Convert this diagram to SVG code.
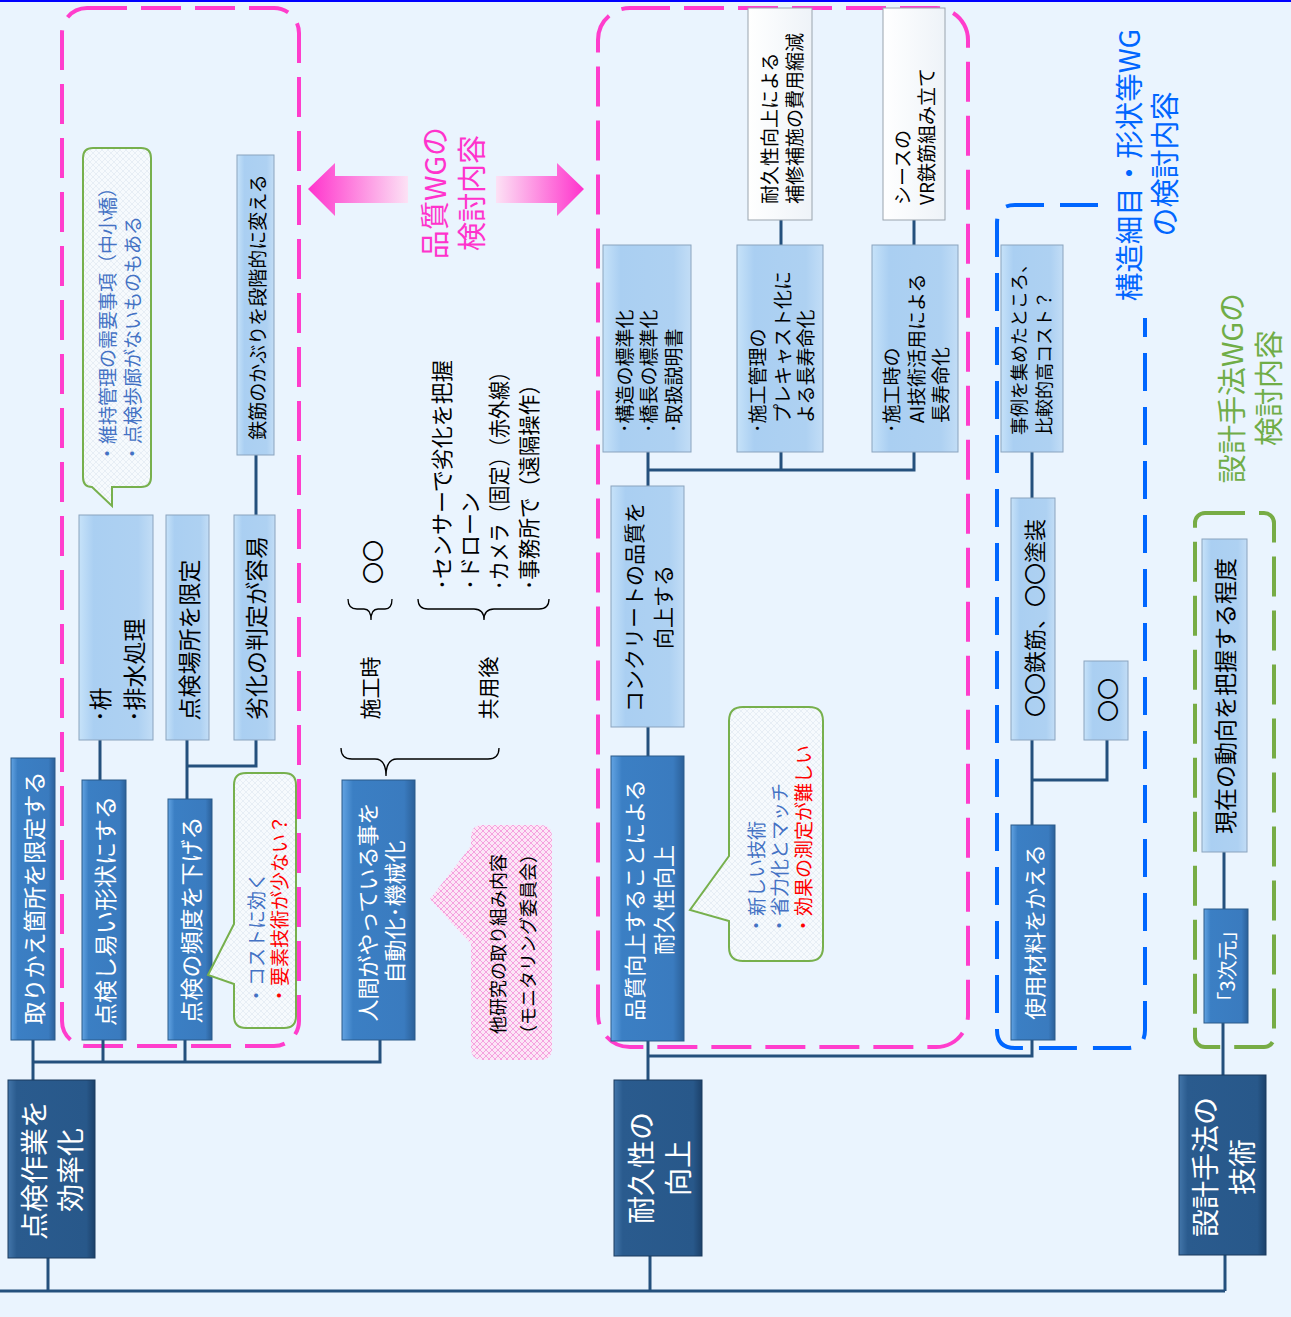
<svg xmlns="http://www.w3.org/2000/svg" width="1291" height="1317" viewBox="0 0 1291 1317">
<defs>
<style>
.t{font-family:"Noto Sans CJK JP","Noto Sans",sans-serif;dominant-baseline:central}
.m{text-anchor:middle}
.s{text-anchor:start}
.w{fill:#fff}
.k{fill:#000}
.b{fill:#4472C4}
.r{fill:#FF0000}
.dk{fill:url(#gDark);stroke:#1A3A5E;stroke-width:1}
.md{fill:url(#gMid);stroke:#2A5A8A;stroke-width:1}
.lt{fill:url(#gLight);stroke:#8AA3BE;stroke-width:1}
.pl{fill:url(#gPale);stroke:#9AA4AE;stroke-width:1}
.cn{fill:none;stroke:#24507D;stroke-width:3}
.pk{fill:none;stroke:#FF3DCC;stroke-width:4;stroke-dasharray:40 14}
.bl{fill:none;stroke:#0066FF;stroke-width:4;stroke-dasharray:38 16}
.gr{fill:none;stroke:#77AC45;stroke-width:4;stroke-dasharray:40 14}
.co{fill:url(#hatchG);stroke:#77B04D;stroke-width:2}
.br{fill:none;stroke:#000;stroke-width:1.3}
</style>
<linearGradient id="gDark" x1="0" y1="0" x2="1" y2="0">
<stop offset="0" stop-color="#4376AA"/><stop offset="0.1" stop-color="#2A5B8E"/><stop offset="0.9" stop-color="#28588A"/><stop offset="1" stop-color="#1C416A"/>
</linearGradient>
<linearGradient id="gMid" x1="0" y1="0" x2="1" y2="0">
<stop offset="0" stop-color="#62A3E2"/><stop offset="0.15" stop-color="#3B7FC4"/><stop offset="0.85" stop-color="#3A7BBF"/><stop offset="1" stop-color="#2B6099"/>
</linearGradient>
<linearGradient id="gLight" x1="0" y1="0" x2="1" y2="0">
<stop offset="0" stop-color="#C6E2F9"/><stop offset="0.2" stop-color="#AACFF2"/><stop offset="0.8" stop-color="#AED1F2"/><stop offset="1" stop-color="#C2DDF6"/>
</linearGradient>
<linearGradient id="gPale" x1="0" y1="0" x2="1" y2="0">
<stop offset="0" stop-color="#FFFFFF"/><stop offset="1" stop-color="#EEF3F8"/>
</linearGradient>
<linearGradient id="gArrL" x1="308" y1="0" x2="408" y2="0" gradientUnits="userSpaceOnUse">
<stop offset="0" stop-color="#FF33CC"/><stop offset="1" stop-color="#FCE2F5"/>
</linearGradient>
<linearGradient id="gArrR" x1="496" y1="0" x2="584" y2="0" gradientUnits="userSpaceOnUse">
<stop offset="0" stop-color="#FCE2F5"/><stop offset="1" stop-color="#FF33CC"/>
</linearGradient>
<pattern id="hatchG" width="6" height="6" patternUnits="userSpaceOnUse">
<rect width="6" height="6" fill="#F6FAFD"/>
<path d="M0,0 L6,6 M6,0 L0,6" stroke="#E3EBF2" stroke-width="0.8"/>
</pattern>
<pattern id="hatchP" width="6" height="6" patternUnits="userSpaceOnUse">
<rect width="6" height="6" fill="#FCE6F6"/>
<path d="M0,0 L6,6 M6,0 L0,6" stroke="#F49BDC" stroke-width="0.9"/>
</pattern>
</defs>

<rect x="0" y="0" width="1291" height="1317" fill="#EAF4FE"/>
<rect x="0" y="0" width="1291" height="2" fill="#0000FF"/>

<!-- group frames -->
<g id="frames">
<rect class="pk" x="62" y="8" width="237" height="1038" rx="25"/>
<rect class="pk" x="598" y="8" width="370" height="1039" rx="32"/>
<path class="bl" d="M1098,205 H1015 Q997,205 997,223 V1030 Q997,1048 1015,1048 H1127 Q1145,1048 1145,1030 V318"/>
<rect class="gr" x="1195" y="513" width="79" height="534" rx="10"/>
</g>

<!-- connectors -->
<g id="connectors">
<path class="cn" d="M0,1291 H1225"/>
<path class="cn" d="M48,1258 V1291"/>
<path class="cn" d="M33,1080 V1040"/>
<path class="cn" d="M33,1062 H380 V1040"/>
<path class="cn" d="M103,1040 V1062"/>
<path class="cn" d="M185,1040 V1062"/>
<path class="cn" d="M100,780 V740"/>
<path class="cn" d="M187,799 V740"/>
<path class="cn" d="M187,766 H256 V740"/>
<path class="cn" d="M256,515 V455"/>
<path class="cn" d="M650,1256 V1291"/>
<path class="cn" d="M648,1080 V1040"/>
<path class="cn" d="M648,1056 H1032 V1040"/>
<path class="cn" d="M648,757 V727"/>
<path class="cn" d="M648,486 V452"/>
<path class="cn" d="M648,470 H914 V452"/>
<path class="cn" d="M781,470 V452"/>
<path class="cn" d="M781,245 V220"/>
<path class="cn" d="M914,245 V220"/>
<path class="cn" d="M1032,825 V740"/>
<path class="cn" d="M1032,780 H1107 V740"/>
<path class="cn" d="M1032,498 V452"/>
<path class="cn" d="M1225,1255 V1291"/>
<path class="cn" d="M1223,1075 V1023"/>
<path class="cn" d="M1224,909 V852"/>
</g>

<!-- Level 1 -->
<g id="n_kouritsu">
<rect class="dk" x="8" y="1080" width="87" height="178"/>
<text class="t m w" font-size="28" transform="translate(33,1170) rotate(-90)">点検作業を</text>
<text class="t m w" font-size="28" transform="translate(69,1170) rotate(-90)">効率化</text>
</g>
<g id="n_taikyu">
<rect class="dk" x="614" y="1080" width="88" height="176"/>
<text class="t m w" font-size="28" transform="translate(640,1168) rotate(-90)">耐久性の</text>
<text class="t m w" font-size="28" transform="translate(677,1168) rotate(-90)">向上</text>
</g>
<g id="n_sekkei">
<rect class="dk" x="1179" y="1075" width="87" height="180"/>
<text class="t m w" font-size="28" transform="translate(1204,1167) rotate(-90)">設計手法の</text>
<text class="t m w" font-size="28" transform="translate(1241,1167) rotate(-90)">技術</text>
</g>

<!-- Level 2 -->
<g id="n_torikae">
<rect class="md" x="11" y="758" width="44" height="282"/>
<text class="t m w" font-size="23" transform="translate(33,898) rotate(-90)">取りかえ箇所を限定する</text>
</g>
<g id="n_tenkenshiyasui">
<rect class="md" x="82" y="780" width="44" height="260"/>
<text class="t m w" font-size="23" transform="translate(104,911) rotate(-90)">点検し易い形状にする</text>
</g>
<g id="n_hindo">
<rect class="md" x="168" y="799" width="44" height="241"/>
<text class="t m w" font-size="23" transform="translate(190,920) rotate(-90)">点検の頻度を下げる</text>
</g>
<g id="n_jidouka">
<rect class="md" x="342" y="780" width="73" height="260"/>
<text class="t m w" font-size="22" transform="translate(366,912) rotate(-90)">人間がやっている事を</text>
<text class="t m w" font-size="22" transform="translate(393,912) rotate(-90)">自動化･機械化</text>
</g>
<g id="n_hinshitsu">
<rect class="md" x="611" y="756" width="73" height="285"/>
<text class="t m w" font-size="22" transform="translate(633,900) rotate(-90)">品質向上することによる</text>
<text class="t m w" font-size="22" transform="translate(662,900) rotate(-90)">耐久性向上</text>
</g>
<g id="n_shiyouzairyou">
<rect class="md" x="1011" y="825" width="44" height="215"/>
<text class="t m w" font-size="22" transform="translate(1033,932) rotate(-90)">使用材料をかえる</text>
</g>
<g id="n_3jigen">
<rect class="md" x="1204" y="909" width="44" height="114"/>
<text class="t m w" font-size="20" transform="translate(1226,966) rotate(-90)">「3次元」</text>
</g>

<!-- Level 3 and beyond -->
<g id="n_masu">
<rect class="lt" x="79" y="515" width="74" height="225"/>
<text class="t s k" font-size="23" transform="translate(99,722) rotate(-90)">･枡</text>
<text class="t s k" font-size="23" transform="translate(133,722) rotate(-90)">･排水処理</text>
</g>
<g id="n_basho">
<rect class="lt" x="166" y="515" width="43" height="225"/>
<text class="t m k" font-size="23" transform="translate(188,640) rotate(-90)">点検場所を限定</text>
</g>
<g id="n_rekka">
<rect class="lt" x="234" y="515" width="41" height="225"/>
<text class="t m k" font-size="23" transform="translate(255,628) rotate(-90)">劣化の判定が容易</text>
</g>
<g id="n_kaburi">
<rect class="lt" x="237" y="155" width="37" height="300"/>
<text class="t m k" font-size="19" transform="translate(256,307) rotate(-90)">鉄筋のかぶりを段階的に変える</text>
</g>
<g id="n_concrete">
<rect class="lt" x="611" y="486" width="73" height="241"/>
<text class="t m k" font-size="21" transform="translate(633,607) rotate(-90)">コンクリートの品質を</text>
<text class="t m k" font-size="21" transform="translate(662,607) rotate(-90)">向上する</text>
</g>
<g id="n_hyoujunka">
<rect class="lt" x="603" y="245" width="88" height="207"/>
<text class="t s k" font-size="19" transform="translate(623,433) rotate(-90)">･構造の標準化</text>
<text class="t s k" font-size="19" transform="translate(647,433) rotate(-90)">･橋長の標準化</text>
<text class="t s k" font-size="19" transform="translate(672,433) rotate(-90)">･取扱説明書</text>
</g>
<g id="n_precast">
<rect class="lt" x="737" y="245" width="86" height="207"/>
<text class="t s k" font-size="19" transform="translate(756,433) rotate(-90)">･施工管理の</text>
<text class="t s k" font-size="19" transform="translate(781,423) rotate(-90)">プレキャスト化に</text>
<text class="t s k" font-size="19" transform="translate(804,423) rotate(-90)">よる長寿命化</text>
</g>
<g id="n_ai">
<rect class="lt" x="872" y="245" width="86" height="207"/>
<text class="t s k" font-size="19" transform="translate(890,433) rotate(-90)">･施工時の</text>
<text class="t s k" font-size="19" transform="translate(915,423) rotate(-90)">AI技術活用による</text>
<text class="t s k" font-size="19" transform="translate(939,423) rotate(-90)">長寿命化</text>
</g>
<g id="n_hiyou">
<rect class="pl" x="748" y="8" width="64" height="212"/>
<text class="t s k" font-size="19" transform="translate(768,204) rotate(-90)">耐久性向上による</text>
<text class="t s k" font-size="19" transform="translate(793,204) rotate(-90)">補修補施の費用縮減</text>
</g>
<g id="n_vr">
<rect class="pl" x="883" y="8" width="62" height="212"/>
<text class="t s k" font-size="19" transform="translate(901,205) rotate(-90)">シースの</text>
<text class="t s k" font-size="19" transform="translate(925,205) rotate(-90)">VR鉄筋組み立て</text>
</g>
<g id="n_jirei">
<rect class="lt" x="1001" y="245" width="62" height="207"/>
<text class="t s k" font-size="18" transform="translate(1018,435) rotate(-90)">事例を集めたところ、</text>
<text class="t s k" font-size="18" transform="translate(1043,435) rotate(-90)">比較的高コスト？</text>
</g>
<g id="n_tekkin">
<rect class="lt" x="1011" y="498" width="44" height="242"/>
<text class="t m k" font-size="22" transform="translate(1033,618) rotate(-90)">〇〇鉄筋、〇〇塗装</text>
</g>
<g id="n_oo">
<rect class="lt" x="1084" y="661" width="44" height="79"/>
<text class="t m k" font-size="22" transform="translate(1106,700) rotate(-90)">〇〇</text>
</g>
<g id="n_doukou">
<rect class="lt" x="1202" y="539" width="45" height="313"/>
<text class="t m k" font-size="23" transform="translate(1224,696) rotate(-90)">現在の動向を把握する程度</text>
</g>

<!-- callouts -->
<g id="c_iji">
<path class="co" d="M93,148 H141 Q151,148 151,158 V477 Q151,487 141,487 H112 V506 L92,487 Q83,487 83,477 V158 Q83,148 93,148 Z"/>
<text class="t s b" font-size="19" transform="translate(106,463) rotate(-90)">・維持管理の需要事項（中小橋）</text>
<text class="t s b" font-size="19" transform="translate(131,463) rotate(-90)">・点検歩廊がないものもある</text>
</g>
<g id="c_cost">
<path class="co" d="M246,773 H284 Q296,773 296,785 V1016 Q296,1028 284,1028 H246 Q234,1028 234,1016 V984 L208,975 L234,924 V785 Q234,773 246,773 Z"/>
<text class="t s b" font-size="19" transform="translate(255,1005) rotate(-90)">・コストに効く</text>
<text class="t s r" font-size="19" transform="translate(278,1005) rotate(-90)">・要素技術が少ない？</text>
</g>
<g id="c_atarashii">
<path class="co" d="M743,707 H809 Q823,707 823,721 V947 Q823,961 809,961 H743 Q729,961 729,947 V921 L690,910 L729,856 V721 Q729,707 743,707 Z"/>
<text class="t s b" font-size="19" transform="translate(755,935) rotate(-90)">・新しい技術</text>
<text class="t s b" font-size="19" transform="translate(778,935) rotate(-90)">・省力化とマッチ</text>
<text class="t s r" font-size="19" transform="translate(802,935) rotate(-90)">・効果の測定が難しい</text>
</g>
<g id="c_takenkyu">
<path fill="url(#hatchP)" d="M483,825 H540 Q552,825 552,837 V1048 Q552,1060 540,1060 H483 Q471,1060 471,1048 V944 L430,899 L471,846 V837 Q471,825 483,825 Z"/>
<text class="t m k" font-size="18" transform="translate(497,944) rotate(-90)">他研究の取り組み内容</text>
<text class="t m k" font-size="18" transform="translate(527,944) rotate(-90)">（モニタリング委員会）</text>
</g>

<!-- braces and monitoring texts -->
<g id="braces">
<path class="br" d="M341,748 Q341,759 352,759 H375 Q386,759 386,776 Q386,759 397,759 H488 Q499,759 499,748"/>
<path class="br" d="M348,599 Q348,609 357,609 H364 Q371,609 371,620 Q371,609 378,609 H385 Q392,609 392,599"/>
<path class="br" d="M418,599 Q418,609 428,609 H474 Q484,609 484,620 Q484,609 494,609 H539 Q549,609 549,599"/>
</g>
<g id="t_sekouji">
<text class="t m k" font-size="21" transform="translate(369,688) rotate(-90)">施工時</text>
<text class="t m k" font-size="22" transform="translate(371,562) rotate(-90)">〇〇</text>
</g>
<g id="t_kyouyougo">
<text class="t m k" font-size="21" transform="translate(487,688) rotate(-90)">共用後</text>
<text class="t s k" font-size="22" transform="translate(440,590) rotate(-90)">･センサーで劣化を把握</text>
<text class="t s k" font-size="22" transform="translate(468,590) rotate(-90)">･ドローン</text>
<text class="t s k" font-size="22" textLength="228" lengthAdjust="spacingAndGlyphs" transform="translate(497,590) rotate(-90)">･カメラ（固定）（赤外線）</text>
<text class="t s k" font-size="22" textLength="216" lengthAdjust="spacingAndGlyphs" transform="translate(527,590) rotate(-90)">･事務所で（遠隔操作）</text>
</g>

<!-- WG labels and arrows -->
<g id="wg_hinshitsu">
<polygon fill="url(#gArrL)" points="308,189 335,163 335,176 408,176 408,203 335,203 335,216"/>
<polygon fill="url(#gArrR)" points="584,189 557,163 557,176 496,176 496,203 557,203 557,216"/>
<text class="t m" fill="#FF33CC" font-size="29" transform="translate(433,193) rotate(-90)">品質WGの</text>
<text class="t m" fill="#FF33CC" font-size="29" transform="translate(470,193) rotate(-90)">検討内容</text>
</g>
<g id="wg_kouzou">
<text class="t m" fill="#0066FF" font-size="28.5" transform="translate(1127,165) rotate(-90)">構造細目・形状等WG</text>
<text class="t m" fill="#0066FF" font-size="29" transform="translate(1163,164) rotate(-90)">の検討内容</text>
</g>
<g id="wg_sekkei">
<text class="t m" fill="#70AD47" font-size="29" transform="translate(1230,388) rotate(-90)">設計手法WGの</text>
<text class="t m" fill="#70AD47" font-size="29" transform="translate(1267,388) rotate(-90)">検討内容</text>
</g>
</svg>
